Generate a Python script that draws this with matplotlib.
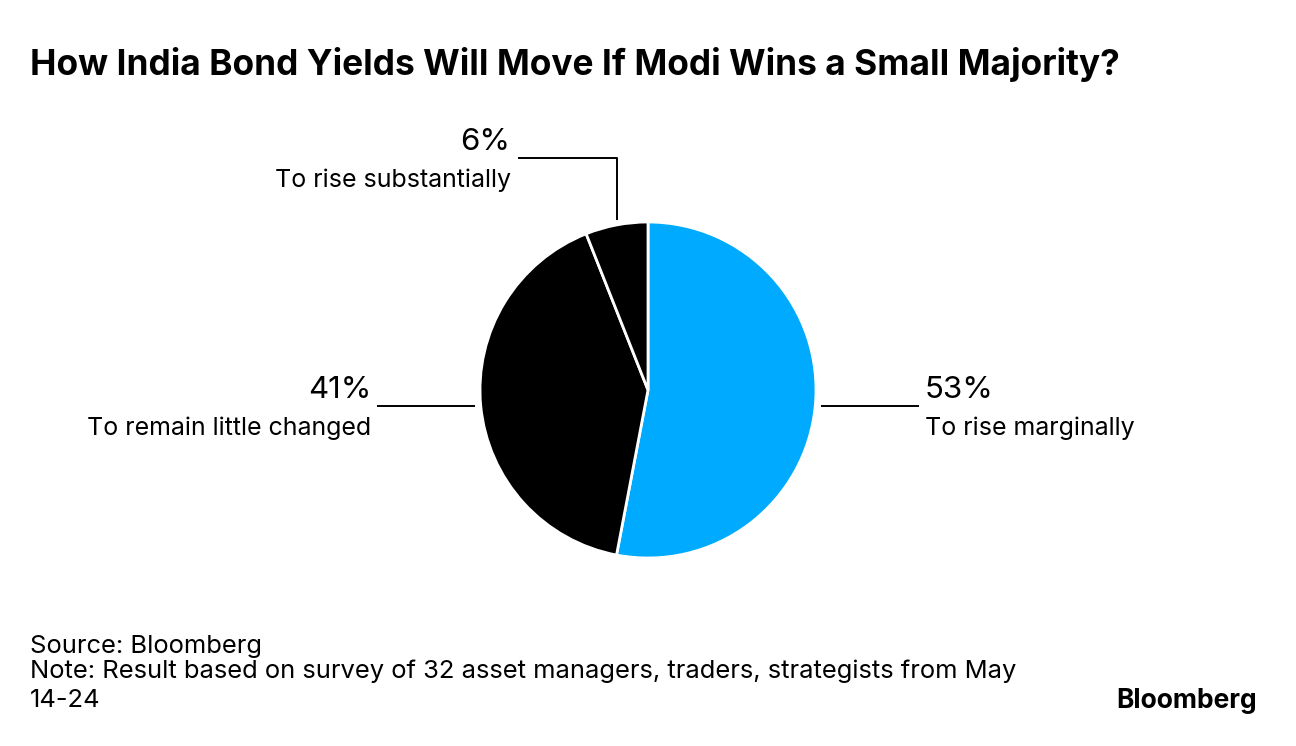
import matplotlib
matplotlib.use("Agg")
import matplotlib.pyplot as plt
import numpy as np

title = "How India Bond Yields Will Move If Modi Wins a Small Majority?"
labels = ["To rise marginally", "To remain little changed", "To rise substantially"]
values = [53, 41, 6]
colors = ["#00AAFF", "#000000", "#000000"]
source = "Source: Bloomberg"
note_lines = ["Note: Result based on survey of 32 asset managers, traders, strategists from May",
              "14-24"]

W, H = 1296, 746
fig = plt.figure(figsize=(W / 100, H / 100), dpi=100)
ax = fig.add_axes([0, 0, 1, 1])

cx, cy, R = 648, H - 390, 168
wedges, _ = ax.pie(values, colors=colors, startangle=90, counterclock=False,
                   center=(cx, cy), radius=R,
                   wedgeprops=dict(edgecolor="white", linewidth=2))
ax.set_xlim(0, W)
ax.set_ylim(0, H)
ax.axis("off")

fam = "Inter"
big = 22.5
small = 18

total = sum(values)
start = 90
for i, (v, lab) in enumerate(zip(values, labels)):
    mid = np.deg2rad(start - v / total * 360 / 2)
    start -= v / total * 360
    px, py = cx + R * np.cos(mid), cy + R * np.sin(mid)
    pct = f"{v}%"
    if abs(np.cos(mid)) > 0.5:
        side = np.sign(np.cos(mid))
        x0 = cx + side * (R + 5)
        x1 = x0 + side * 98
        ax.plot([x0, x1], [py, py], color="black", lw=1.4, solid_capstyle="butt")
        ha = "left" if side > 0 else "right"
        tx = x1 + side * 6
        ly = py
    else:
        y0 = cy + R + 2
        y1 = y0 + 62
        x1 = px - 99
        ax.plot([px, px, x1], [y0, y1, y1], color="black", lw=1.4, solid_capstyle="butt")
        ha = "right"
        tx = x1 - 7
        ly = y1
    ax.text(tx, ly + 8, pct, ha=ha, va="baseline", fontsize=big, family=fam)
    ax.text(tx, ly - 29, lab, ha=ha, va="baseline", fontsize=small, family=fam)

fig.text(30 / W, 1 - 75 / H, title, ha="left", va="baseline", fontsize=25.4,
         fontweight="bold", family=fam)
fig.text(30 / W, 1 - 653 / H, source, ha="left", va="baseline", fontsize=18.4, family=fam)
for k, ln in enumerate(note_lines):
    fig.text(30 / W, 1 - (678 + 29 * k) / H, ln, ha="left", va="baseline",
             fontsize=18.4, family=fam)
fig.text(1257 / W, 1 - 708 / H, "Bloomberg", ha="right", va="baseline", fontsize=19,
         fontweight="bold", family=fam)

fig.savefig("out.png", dpi=100, facecolor="white")
